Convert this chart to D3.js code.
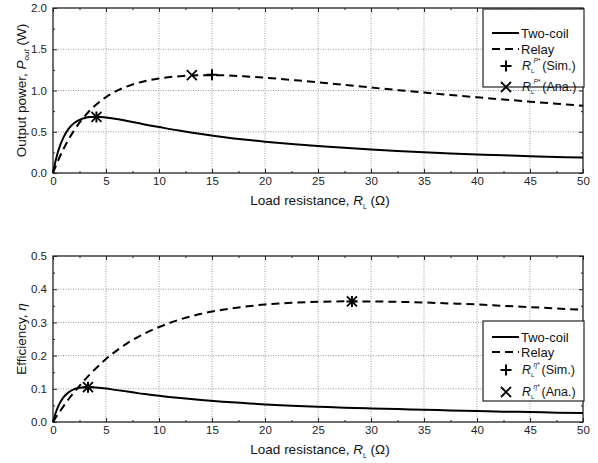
<!DOCTYPE html>
<html>
<head>
<meta charset="utf-8">
<script src="https://cdn.jsdelivr.net/npm/d3@7"></script>
<style>
  body { margin: 0; background: #fff; }
  svg { font-family: "Liberation Sans", Arial, sans-serif; }
  .grid line { stroke: #999; stroke-dasharray: 1,1.5; }
  .tick text { font-size: 11.5px; fill: #222; }
</style>
</head>
<body>
<svg id="chart" width="598" height="463"></svg>
<script>
// load resistance samples (ohm)
var rl = [0, 0.25, 0.5, 1, 1.5, 2, 2.5, 3, 3.5, 4, 5, 6, 7, 8, 9, 10, 12, 14, 16, 18, 20,
          22.5, 25, 27.5, 30, 32.5, 35, 37.5, 40, 42.5, 45, 47.5, 50];

// output power (W)
var powerTwoCoil = [0, 0.15, 0.27, 0.435, 0.54, 0.605, 0.645, 0.667, 0.678, 0.681, 0.673, 0.654,
                    0.631, 0.606, 0.58, 0.557, 0.512, 0.472, 0.437, 0.406, 0.38, 0.352, 0.328,
                    0.305, 0.285, 0.267, 0.251, 0.237, 0.225, 0.214, 0.204, 0.195, 0.187];
var powerRelay = [0, 0.08, 0.156, 0.294, 0.414, 0.518, 0.61, 0.69, 0.76, 0.82, 0.92, 0.995,
                  1.05, 1.092, 1.124, 1.146, 1.174, 1.186, 1.184, 1.172, 1.155, 1.128, 1.1,
                  1.068, 1.036, 1.005, 0.975, 0.946, 0.918, 0.891, 0.865, 0.84, 0.815];

// efficiency
var effTwoCoil = [0, 0.027, 0.048, 0.075, 0.09, 0.099, 0.103, 0.105, 0.105, 0.104, 0.101, 0.096,
                  0.092, 0.087, 0.083, 0.079, 0.072, 0.066, 0.061, 0.057, 0.053, 0.049, 0.046,
                  0.043, 0.041, 0.039, 0.037, 0.035, 0.033, 0.031, 0.03, 0.028, 0.027];
var effRelay = [0, 0.013, 0.025, 0.048, 0.07, 0.09, 0.109, 0.127, 0.144, 0.16, 0.19, 0.215,
                0.237, 0.256, 0.272, 0.286, 0.309, 0.326, 0.338, 0.347, 0.354, 0.359, 0.362,
                0.3635, 0.363, 0.362, 0.36, 0.357, 0.354, 0.35, 0.346, 0.342, 0.338];

// optimum markers [RL, value]
var powerSim = [[4.1, 0.68], [15.0, 1.19]];
var powerAna = [[4.1, 0.68], [13.1, 1.185]];
var effSim = [[3.3, 0.105], [28.2, 0.363]];
var effAna = [[3.3, 0.105], [28.2, 0.363]];

var xTicks = [0, 5, 10, 15, 20, 25, 30, 35, 40, 45, 50];
var powerTicks = [0, 0.5, 1.0, 1.5, 2.0];
var effTicks = [0, 0.1, 0.2, 0.3, 0.4, 0.5];

var svg = d3.select("#chart");
var left = 53, right = 583;

var xScale = d3.scaleLinear().domain([0, 50]).range([left, right]);

function drawPanel(cfg) {
  var yScale = d3.scaleLinear().domain(cfg.domain).range([cfg.bottom, cfg.top]);
  var g = svg.append("g");
  var h = cfg.bottom - cfg.top;
  var w = right - left;

  // grid
  g.append("g").attr("class", "grid")
    .selectAll("line.v").data(xTicks.slice(1, -1)).enter().append("line")
    .attr("x1", function(d){ return xScale(d); }).attr("x2", function(d){ return xScale(d); })
    .attr("y1", cfg.top).attr("y2", cfg.bottom);
  g.append("g").attr("class", "grid")
    .selectAll("line.h").data(cfg.ticks.slice(1, -1)).enter().append("line")
    .attr("x1", left).attr("x2", right)
    .attr("y1", function(d){ return yScale(d); }).attr("y2", function(d){ return yScale(d); });

  // minor tick values
  var xMinor = xTicks.slice(0, -1).map(function(d){ return d + 2.5; });
  var step = cfg.ticks[1] - cfg.ticks[0];
  var yMinor = cfg.ticks.slice(0, -1).map(function(d){ return d + step / 2; });

  // axes, ticks pointing inward
  var xAxis = d3.axisBottom(xScale).tickValues(xTicks).tickSize(-4).tickPadding(7).tickFormat(d3.format("d"));
  var yAxis = d3.axisLeft(yScale).tickValues(cfg.ticks).tickSize(-4).tickPadding(6).tickFormat(d3.format(".1f"));

  var ax = g.append("g").attr("transform", "translate(0," + cfg.bottom + ")").call(xAxis);
  g.append("g").attr("transform", "translate(" + left + ",0)").call(yAxis);
  g.append("g").attr("transform", "translate(0," + cfg.bottom + ")")
    .call(d3.axisBottom(xScale).tickValues(xMinor).tickSize(-2).tickFormat(""));
  g.append("g").attr("transform", "translate(" + left + ",0)")
    .call(d3.axisLeft(yScale).tickValues(yMinor).tickSize(-2).tickFormat(""));
  g.append("g").attr("transform", "translate(0," + cfg.top + ")")
    .call(d3.axisTop(xScale).tickValues(xTicks).tickSize(-4).tickFormat(""));
  g.append("g").attr("transform", "translate(0," + cfg.top + ")")
    .call(d3.axisTop(xScale).tickValues(xMinor).tickSize(-2).tickFormat(""));
  g.append("g").attr("transform", "translate(" + right + ",0)")
    .call(d3.axisRight(yScale).tickValues(cfg.ticks).tickSize(-4).tickFormat(""));
  g.append("g").attr("transform", "translate(" + right + ",0)")
    .call(d3.axisRight(yScale).tickValues(yMinor).tickSize(-2).tickFormat(""));
  g.selectAll(".domain").remove();
  g.selectAll(".tick line").attr("stroke", "#222");
  ax.selectAll(".tick text").attr("dy", "0.45em");

  // frame
  g.append("rect").attr("x", left).attr("y", cfg.top).attr("width", w).attr("height", h)
    .attr("fill", "none").attr("stroke", "#222").attr("stroke-width", 1.3);

  // curves
  var line = function(vals) {
    return d3.line()
      .x(function(d, i){ return xScale(rl[i]); })
      .y(function(d){ return yScale(d); })
      .curve(d3.curveMonotoneX)(vals);
  };
  g.append("path").attr("d", line(cfg.twoCoil))
    .attr("fill", "none").attr("stroke", "#000").attr("stroke-width", 2);
  g.append("path").attr("d", line(cfg.relay))
    .attr("fill", "none").attr("stroke", "#000").attr("stroke-width", 2)
    .attr("stroke-dasharray", "8,5");

  // markers
  cfg.sim.forEach(function(p){ plusMark(g, xScale(p[0]), yScale(p[1])); });
  cfg.ana.forEach(function(p){ crossMark(g, xScale(p[0]), yScale(p[1])); });

  // x title
  var xt = g.append("text").attr("x", (left + right) / 2 + 2).attr("y", cfg.bottom + 32)
    .attr("text-anchor", "middle").style("font-size", "13.5px").attr("fill", "#111");
  xt.append("tspan").text("Load resistance, ");
  xt.append("tspan").style("font-style", "italic").text("R");
  xt.append("tspan").attr("dy", 4).style("font-size", "7px").text("L");
  xt.append("tspan").attr("dy", -4).text(" (\u03A9)");

  // y title
  var yt = g.append("text")
    .attr("transform", "translate(26," + ((cfg.top + cfg.bottom) / 2) + ") rotate(-90)")
    .attr("text-anchor", "middle").style("font-size", "13.5px").attr("fill", "#111");
  cfg.yTitle(yt);

  // legend
  var lg = g.append("g").attr("transform", "translate(" + cfg.legend[0] + "," + cfg.legend[1] + ")");
  lg.append("rect").attr("width", 101).attr("height", cfg.legend[2])
    .attr("fill", "#fff").attr("stroke", "#222").attr("stroke-width", 1.2);
  var rows = cfg.legendRows;
  lg.append("line").attr("x1", 9).attr("x2", 36).attr("y1", rows[0]).attr("y2", rows[0])
    .attr("stroke", "#000").attr("stroke-width", 2);
  lg.append("line").attr("x1", 9).attr("x2", 36).attr("y1", rows[1]).attr("y2", rows[1])
    .attr("stroke", "#000").attr("stroke-width", 2).attr("stroke-dasharray", "8,5");
  plusMark(lg, 23, rows[2]);
  crossMark(lg, 23, rows[3]);
  var lt = function(y, s) {
    return lg.append("text").attr("x", 38).attr("y", y).attr("dy", "0.35em")
      .style("font-size", "13px").attr("fill", "#111").text(s);
  };
  lt(rows[0], "Two-coil");
  lt(rows[1], "Relay");
  [["(Sim.)", rows[2]], ["(Ana.)", rows[3]]].forEach(function(r) {
    var t = lg.append("text").attr("x", 39).attr("y", r[1]).attr("dy", "0.35em")
      .style("font-size", "12.5px").attr("fill", "#111");
    t.append("tspan").style("font-style", "italic").text("R");
    t.append("tspan").attr("dy", 3).style("font-size", "6px").text("L");
    t.append("tspan").attr("dy", -10).attr("dx", -1).style("font-size", "6.5px")
      .style("font-style", "italic").text(cfg.sup);
    t.append("tspan").attr("dy", 7).attr("dx", 2).text(r[0]);
  });
}

function plusMark(g, x, y) {
  g.append("path").attr("d", "M" + (x - 5.5) + "," + y + "h11M" + x + "," + (y - 5.5) + "v11")
    .attr("stroke", "#000").attr("stroke-width", 2).attr("fill", "none");
}
function crossMark(g, x, y) {
  g.append("path").attr("d", "M" + (x - 5) + "," + (y - 5) + "l10,10M" + (x - 5) + "," + (y + 5) + "l10,-10")
    .attr("stroke", "#000").attr("stroke-width", 1.8).attr("fill", "none");
}

drawPanel({
  top: 8, bottom: 173, domain: [0, 2], ticks: powerTicks,
  twoCoil: powerTwoCoil, relay: powerRelay, sim: powerSim, ana: powerAna,
  legend: [483, 9, 78], legendRows: [24, 40, 57, 78], sup: "P*",
  yTitle: function(t) {
    t.append("tspan").text("Output power, ");
    t.append("tspan").style("font-style", "italic").text("P");
    t.append("tspan").attr("dy", 3).style("font-size", "8px").style("font-style", "italic").text("out");
    t.append("tspan").attr("dy", -3).text(" (W)");
  }
});

drawPanel({
  top: 256, bottom: 422, domain: [0, 0.5], ticks: effTicks,
  twoCoil: effTwoCoil, relay: effRelay, sim: effSim, ana: effAna,
  legend: [483, 321, 80], legendRows: [337, 352, 370, 392].map(function(d){ return d - 321; }), sup: "\u03B7*",
  yTitle: function(t) {
    t.append("tspan").text("Efficiency, ");
    t.append("tspan").style("font-style", "italic").text("\u03B7");
  }
});
</script>
</body>
</html>
